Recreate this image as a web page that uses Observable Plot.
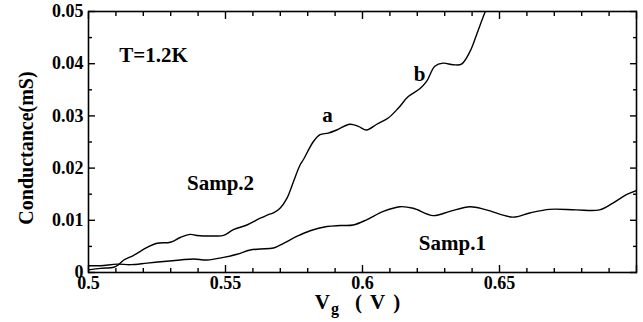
<!DOCTYPE html>
<html><head><meta charset="utf-8">
<script src="https://cdn.jsdelivr.net/npm/d3@7"></script>
<script src="https://cdn.jsdelivr.net/npm/@observablehq/plot@0.6"></script>
<style>
body{margin:0;background:#fff}
#chart svg{font-family:"Liberation Serif","Times New Roman",serif;font-weight:bold;color:black;background:white}
#chart svg text{font-family:"Liberation Serif","Times New Roman",serif;font-weight:bold}
</style>
</head><body><div id="chart"></div>
<script>
const samp2X = [0.5000,0.5044,0.5092,0.5110,0.5129,0.5165,0.5214,0.5250,0.5299,0.5335,0.5371,0.5396,0.5456,0.5493,0.5529,0.5578,0.5627,0.5657,0.5675,0.5699,0.5724,0.5748,0.5772,0.5784,0.5821,0.5845,0.5875,0.5906,0.5954,0.5985,0.6015,0.6052,0.6094,0.6131,0.6167,0.6209,0.6234,0.6264,0.6294,0.6331,0.6361,0.6392,0.6416,0.6446,0.6449];
const samp2Y = [0.0005,0.0008,0.0010,0.0015,0.0024,0.0033,0.0048,0.0056,0.0058,0.0067,0.0073,0.0071,0.0070,0.0071,0.0082,0.0091,0.0104,0.0111,0.0114,0.0123,0.0142,0.0174,0.0206,0.0216,0.0251,0.0264,0.0267,0.0273,0.0284,0.0280,0.0273,0.0284,0.0296,0.0315,0.0337,0.0352,0.0366,0.0395,0.0401,0.0398,0.0399,0.0423,0.0455,0.0497,0.0500];
const samp1X = [0.5000,0.5044,0.5105,0.5153,0.5214,0.5274,0.5335,0.5384,0.5432,0.5493,0.5542,0.5590,0.5627,0.5675,0.5712,0.5760,0.5809,0.5870,0.5918,0.5966,0.6015,0.6076,0.6137,0.6185,0.6258,0.6319,0.6392,0.6452,0.6549,0.6610,0.6683,0.6780,0.6865,0.6914,0.6963,0.7000];
const samp1Y = [0.0013,0.0013,0.0016,0.0015,0.0018,0.0021,0.0024,0.0026,0.0024,0.0029,0.0035,0.0043,0.0045,0.0047,0.0056,0.0069,0.0080,0.0088,0.0090,0.0091,0.0101,0.0117,0.0126,0.0123,0.0109,0.0117,0.0126,0.0120,0.0106,0.0114,0.0121,0.0120,0.0120,0.0133,0.0149,0.0157];

const xMajorTicks = [0.5,0.55,0.6,0.65,0.7];
const xTickLabels = ["0.5","0.55","0.6","0.65",""];
const xMinorTicks = [0.51,0.52,0.53,0.54,0.56,0.57,0.58,0.59,0.61,0.62,0.63,0.64,0.66,0.67,0.68,0.69];
const yMajorTicks = [0,0.01,0.02,0.03,0.04,0.05];
const yTickLabels = ["0","0.01","0.02","0.03","0.04","0.05"];
const yMinorTicks = [0.005,0.015,0.025,0.035,0.045];

const annotations = [
  {x: 0.5237, y: 0.0416, label: "T=1.2K"},
  {x: 0.5872, y: 0.0301, label: "a"},
  {x: 0.6208, y: 0.0379, label: "b"},
  {x: 0.5482, y: 0.0170, label: "Samp.2"},
  {x: 0.6328, y: 0.0056, label: "Samp.1"}
];
const xLabel = "Vg ( V )";
const yLabel = "Conductance(mS)";

const samp2 = samp2X.map((x, i) => ({x, y: samp2Y[i]}));
const samp1 = samp1X.map((x, i) => ({x, y: samp1Y[i]}));
const xFmt = new Map(xMajorTicks.map((d, i) => [d, xTickLabels[i]]));
const yFmt = new Map(yMajorTicks.map((d, i) => [d, yTickLabels[i]]));
const blank = () => "";
const FONT = "Liberation Serif";

const chart = Plot.plot({
  width: 643, height: 322,
  marginLeft: 88, marginRight: 7, marginTop: 11, marginBottom: 50,
  x: {domain: [0.5, 0.7], axis: null},
  y: {domain: [0, 0.05], axis: null},
  marks: [
    Plot.line(samp2, {x: "x", y: "y", stroke: "black", strokeWidth: 1.4, curve: "catmull-rom", clip: true}),
    Plot.line(samp1, {x: "x", y: "y", stroke: "black", strokeWidth: 1.4, curve: "catmull-rom", clip: true}),
    Plot.frame({stroke: "black", strokeWidth: 1.6}),
    // inward ticks
    Plot.axisX(xMajorTicks, {anchor: "bottom", tickSize: -7, tickFormat: blank, label: null, strokeWidth: 1.4}),
    Plot.axisX(xMinorTicks, {anchor: "bottom", tickSize: -4, tickFormat: blank, label: null, strokeWidth: 1.4}),
    Plot.axisX(xMajorTicks, {anchor: "top", tickSize: -7, tickFormat: blank, label: null, strokeWidth: 1.4}),
    Plot.axisX(xMinorTicks, {anchor: "top", tickSize: -4, tickFormat: blank, label: null, strokeWidth: 1.4}),
    Plot.axisY(yMajorTicks, {anchor: "left", tickSize: -7, tickFormat: blank, label: null, strokeWidth: 1.4}),
    Plot.axisY(yMinorTicks, {anchor: "left", tickSize: -4, tickFormat: blank, label: null, strokeWidth: 1.4}),
    Plot.axisY(yMajorTicks, {anchor: "right", tickSize: -7, tickFormat: blank, label: null, strokeWidth: 1.4}),
    Plot.axisY(yMinorTicks, {anchor: "right", tickSize: -4, tickFormat: blank, label: null, strokeWidth: 1.4}),
    // labels
    Plot.axisX(xMajorTicks, {anchor: "bottom", tickSize: 0, tickPadding: 4, tickFormat: d => xFmt.get(d), label: null, fontSize: 18, fontFamily: FONT, fontWeight: "bold", fill: "black"}),
    Plot.axisY(yMajorTicks, {anchor: "left", tickSize: 0, tickPadding: 5, tickFormat: d => yFmt.get(d), label: null, fontSize: 18, fontFamily: FONT, fontWeight: "bold", fill: "black"}),
    Plot.text([xLabel], {frameAnchor: "bottom", dy: 36, dx: -5, lineAnchor: "bottom", textAnchor: "middle", fontSize: 21, fontFamily: FONT, fontWeight: "bold", fill: "black"}),
    Plot.text([yLabel], {frameAnchor: "left", rotate: -90, dx: -62, dy: 6, lineAnchor: "middle", textAnchor: "middle", fontSize: 20, fontFamily: FONT, fontWeight: "bold", fill: "black"}),
    Plot.text(annotations, {x: "x", y: "y", text: "label", fontSize: 21, fontFamily: FONT, fontWeight: "bold", fill: "black", lineAnchor: "middle", textAnchor: "middle"})
  ]
});
document.getElementById("chart").appendChild(chart);

// subscript g in the x label
d3.select(chart).selectAll("text").each(function() {
  if (this.textContent === xLabel) {
    const t = d3.select(this);
    t.text("");
    t.append("tspan").text("V");
    t.append("tspan").attr("dy", 5).attr("dx", 1).attr("font-size", 16).text("g");
    t.append("tspan").attr("dy", -5).attr("dx", 16).text("(");
    t.append("tspan").attr("dx", 8).text("V");
    t.append("tspan").attr("dx", 8).text(")");
  }
});
</script>
</body></html>
